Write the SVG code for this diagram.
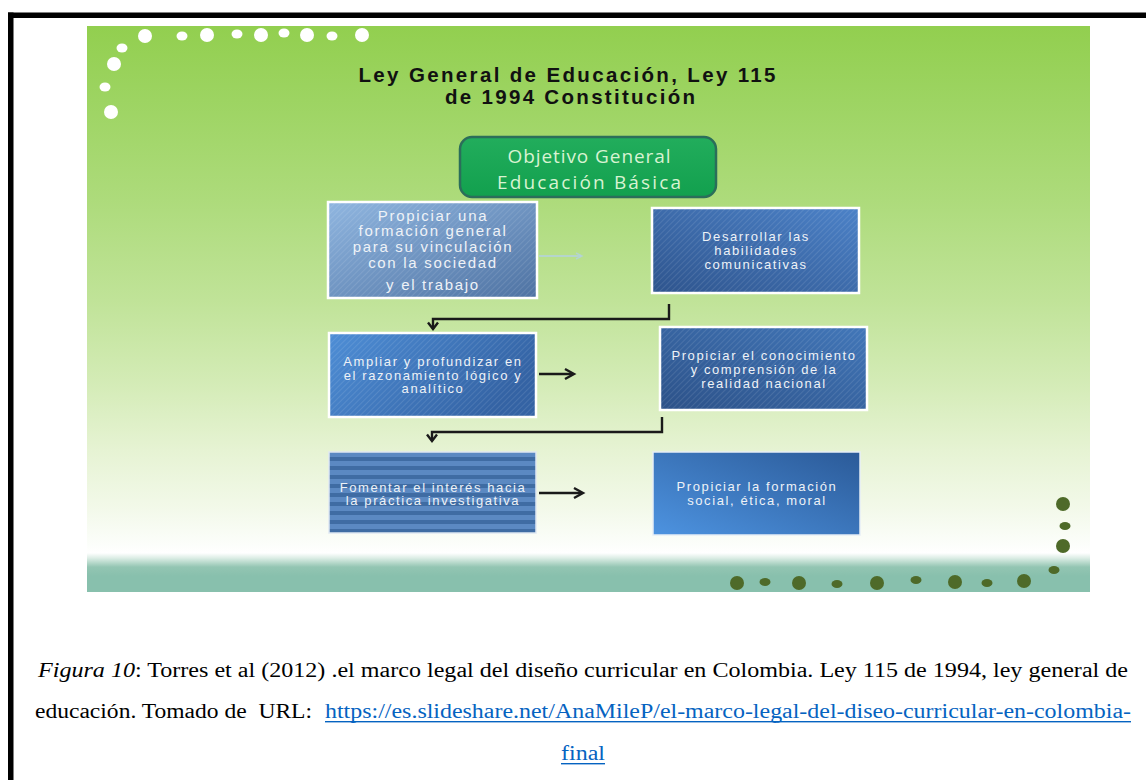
<svg xmlns="http://www.w3.org/2000/svg" width="1146" height="780" viewBox="0 0 1146 780">
<style>
.title{font-family:"Liberation Sans",Arial,sans-serif;font-weight:bold;font-size:20.5px;fill:#111;text-anchor:middle}
.gt{font-family:"Open Sans","Liberation Sans",sans-serif;font-size:19px;fill:#d8f3d2;text-anchor:middle}
.bt{font-family:"Liberation Sans",Arial,sans-serif;font-size:13px;letter-spacing:1.6px;fill:#eef2f7;text-anchor:middle}
.bt1{font-family:"Liberation Sans",Arial,sans-serif;font-size:15px;letter-spacing:1.7px;fill:#eef2f7;text-anchor:middle}
.box{stroke:#ffffff;stroke-width:2.5}
.conn{fill:none;stroke:#1a1a1a;stroke-width:2.4;stroke-linejoin:miter}
.cap{font-family:"Liberation Serif","Times New Roman",serif;font-size:20px;fill:#000}
.link{font-family:"Liberation Serif","Times New Roman",serif;font-size:20px;fill:#0563c1}
.wd{fill:#ffffff}
.dd{fill:#4e6a29}
</style>
<defs>
<linearGradient id="bg" gradientUnits="userSpaceOnUse" x1="0" y1="26" x2="0" y2="592">
<stop offset="0" stop-color="#92cf4f"/>
<stop offset="0.131" stop-color="#9dd462"/>
<stop offset="0.307" stop-color="#addb7b"/>
<stop offset="0.484" stop-color="#c0e398"/>
<stop offset="0.625" stop-color="#d3ebb5"/>
<stop offset="0.749" stop-color="#e6f3d3"/>
<stop offset="0.855" stop-color="#f3f9ea"/>
<stop offset="0.917" stop-color="#fcfefb"/>
<stop offset="0.931" stop-color="#ffffff"/>
<stop offset="0.940" stop-color="#dcede5"/>
<stop offset="0.956" stop-color="#93c5b2"/>
<stop offset="0.972" stop-color="#88c0ad"/>
<stop offset="1" stop-color="#88c0ad"/>
</linearGradient>
<linearGradient id="g1" x1="0" y1="0" x2="1" y2="1">
<stop offset="0" stop-color="#90b6e0"/>
<stop offset="1" stop-color="#4e72a2"/>
</linearGradient>
<linearGradient id="g2" x1="1" y1="0" x2="0" y2="1">
<stop offset="0" stop-color="#4c82c8"/>
<stop offset="1" stop-color="#2e548d"/>
</linearGradient>
<linearGradient id="g3" x1="0" y1="0" x2="1" y2="0.4">
<stop offset="0" stop-color="#4e8ed6"/>
<stop offset="1" stop-color="#3463a4"/>
</linearGradient>
<linearGradient id="g4" x1="1" y1="0" x2="0" y2="1">
<stop offset="0" stop-color="#4277b9"/>
<stop offset="1" stop-color="#2c5188"/>
</linearGradient>
<linearGradient id="g6" x1="0" y1="1" x2="1" y2="0">
<stop offset="0" stop-color="#4d93e0"/>
<stop offset="1" stop-color="#2b5a98"/>
</linearGradient>
<linearGradient id="gg" x1="0" y1="0" x2="0" y2="1">
<stop offset="0" stop-color="#22ad5c"/>
<stop offset="1" stop-color="#12a04e"/>
</linearGradient>
<pattern id="hatch" width="4" height="4" patternUnits="userSpaceOnUse" patternTransform="rotate(45)">
<rect width="1" height="4" fill="#ffffff" fill-opacity="0.10"/>
</pattern>
<pattern id="stripes" width="10" height="9" patternUnits="userSpaceOnUse" y="452">
<rect width="10" height="9" fill="#3f6ca3"/>
<rect width="10" height="5" fill="#5b89c2"/>
</pattern>
</defs>

<rect x="87" y="26" width="1003" height="566" fill="url(#bg)"/>

<g id="dots-white">
<circle class="wd" cx="145" cy="36" r="7"/>
<ellipse class="wd" cx="182" cy="36" rx="5.5" ry="4.5"/>
<circle class="wd" cx="207" cy="35" r="7"/>
<ellipse class="wd" cx="237" cy="34" rx="5.5" ry="4.5"/>
<circle class="wd" cx="261" cy="35" r="7"/>
<ellipse class="wd" cx="284" cy="33" rx="5.5" ry="4.5"/>
<circle class="wd" cx="307" cy="35" r="7"/>
<ellipse class="wd" cx="332" cy="36" rx="5.5" ry="4.5"/>
<circle class="wd" cx="362" cy="35" r="7"/>
<ellipse class="wd" cx="122" cy="48" rx="5.5" ry="4.5"/>
<circle class="wd" cx="114" cy="64" r="7"/>
<ellipse class="wd" cx="105" cy="87" rx="5.5" ry="4.5"/>
<circle class="wd" cx="111" cy="112" r="7"/>
</g>
<g id="dots-dark">
<circle class="dd" cx="1063" cy="504" r="7"/>
<ellipse class="dd" cx="1065" cy="526" rx="5.5" ry="4"/>
<circle class="dd" cx="1063" cy="546" r="7"/>
<ellipse class="dd" cx="1054" cy="570" rx="5.5" ry="4"/>
<circle class="dd" cx="737" cy="583" r="7"/>
<ellipse class="dd" cx="765" cy="582" rx="5.5" ry="4"/>
<circle class="dd" cx="799" cy="583" r="7"/>
<ellipse class="dd" cx="837" cy="584" rx="5.5" ry="4"/>
<circle class="dd" cx="877" cy="583" r="7"/>
<ellipse class="dd" cx="916" cy="580" rx="5.5" ry="4"/>
<circle class="dd" cx="955" cy="582" r="7"/>
<ellipse class="dd" cx="987" cy="583" rx="5.5" ry="4"/>
<circle class="dd" cx="1024" cy="581" r="7"/>
</g>

<g id="title">
<text class="title" x="567" y="82" textLength="417" lengthAdjust="spacing">Ley General de Educación, Ley 115</text>
<text class="title" x="570" y="104" textLength="250" lengthAdjust="spacing">de 1994 Constitución</text>
</g>

<g id="connectors">
<line x1="539" y1="256" x2="581" y2="256" stroke="#b4d2dc" stroke-width="2" stroke-opacity="0.8"/>
<path d="M576,253 L582,256 L576,259" fill="none" stroke="#b4d2dc" stroke-width="1.5" stroke-opacity="0.8"/>
<path class="conn" d="M669,304 V319 H433 V329"/>
<path class="conn" d="M428,322.5 L433,329 L438,322.5"/>
<line class="conn" x1="539" y1="374" x2="573" y2="374"/>
<path class="conn" d="M565,369 L574,374 L565,379"/>
<path class="conn" d="M662,417 V432 H432 V441"/>
<path class="conn" d="M427,434.5 L432,441 L437,434.5"/>
<line class="conn" x1="539" y1="493" x2="582" y2="493"/>
<path class="conn" d="M574,488 L583,493 L574,498"/>
</g>

<g id="node-objetivo">
<rect x="460" y="137" width="256" height="60" rx="12" fill="url(#gg)" stroke="#2b6e5a" stroke-width="2.5"/>
<text class="gt" x="589" y="163" textLength="163" lengthAdjust="spacing">Objetivo General</text>
<text class="gt" x="589" y="189" textLength="184" lengthAdjust="spacing">Educación Básica</text>
</g>

<g id="node-propiciar-formacion-general">
<rect class="box" x="328" y="202" width="209" height="96" fill="url(#g1)"/>
<rect x="329" y="203" width="207" height="94" fill="url(#hatch)"/>
<text class="bt1" x="433" y="221">Propiciar una</text>
<text class="bt1" x="433" y="236">formación general</text>
<text class="bt1" x="433" y="252">para su vinculación</text>
<text class="bt1" x="433" y="268">con la sociedad</text>
<text class="bt1" x="433" y="290">y el trabajo</text>
</g>

<g id="node-habilidades">
<rect class="box" x="652" y="208" width="207" height="85" fill="url(#g2)"/>
<rect x="653" y="209" width="205" height="83" fill="url(#hatch)"/>
<text class="bt" x="756" y="241">Desarrollar las</text>
<text class="bt" x="756" y="255">habilidades</text>
<text class="bt" x="756" y="269">comunicativas</text>
</g>

<g id="node-razonamiento">
<rect class="box" x="329" y="333" width="207" height="84" fill="url(#g3)"/>
<rect x="330" y="334" width="205" height="82" fill="url(#hatch)"/>
<text class="bt" x="433" y="366">Ampliar y profundizar en</text>
<text class="bt" x="433" y="379.5">el razonamiento lógico y</text>
<text class="bt" x="433" y="393">analítico</text>
</g>

<g id="node-realidad-nacional">
<rect class="box" x="660" y="327" width="207" height="83" fill="url(#g4)"/>
<rect x="661" y="328" width="205" height="81" fill="url(#hatch)"/>
<text class="bt" x="764" y="360">Propiciar el conocimiento</text>
<text class="bt" x="764" y="374">y comprensión de la</text>
<text class="bt" x="764" y="388">realidad nacional</text>
</g>

<g id="node-investigativa">
<rect x="329" y="452" width="207" height="81" fill="url(#stripes)" stroke="#dfe8f2" stroke-width="1.5"/>
<text class="bt" x="433" y="491.5">Fomentar el interés hacia</text>
<text class="bt" x="433" y="505">la práctica investigativa</text>
</g>

<g id="node-formacion-social">
<rect x="653" y="452" width="207" height="83" fill="url(#g6)" stroke="#e6eef6" stroke-width="1.5"/>
<text class="bt" x="757" y="491">Propiciar la formación</text>
<text class="bt" x="757" y="505">social, ética, moral</text>
</g>

<g id="frame">
<rect x="8" y="12.5" width="1138" height="5.5" fill="#000"/>
<rect x="8" y="12.5" width="5.5" height="768" fill="#000"/>
</g>

<g id="caption">
<text class="cap" x="38" y="677" textLength="1090" lengthAdjust="spacingAndGlyphs"><tspan font-style="italic">Figura 10</tspan>: Torres et al (2012) .el marco legal del diseño curricular en Colombia. Ley 115 de 1994, ley general de</text>
<text class="cap" x="35" y="718" textLength="277" lengthAdjust="spacingAndGlyphs" style="white-space:pre">educación. Tomado de  URL:</text>
<text class="link" x="325" y="718" textLength="806" lengthAdjust="spacingAndGlyphs">https://es.slideshare.net/AnaMileP/el-marco-legal-del-diseo-curricular-en-colombia-</text>
<rect x="325" y="721" width="806" height="1.4" fill="#0563c1"/>
<text class="link" x="561" y="760" textLength="44" lengthAdjust="spacingAndGlyphs">final</text>
<rect x="561" y="763" width="44" height="1.4" fill="#0563c1"/>
</g>
</svg>
